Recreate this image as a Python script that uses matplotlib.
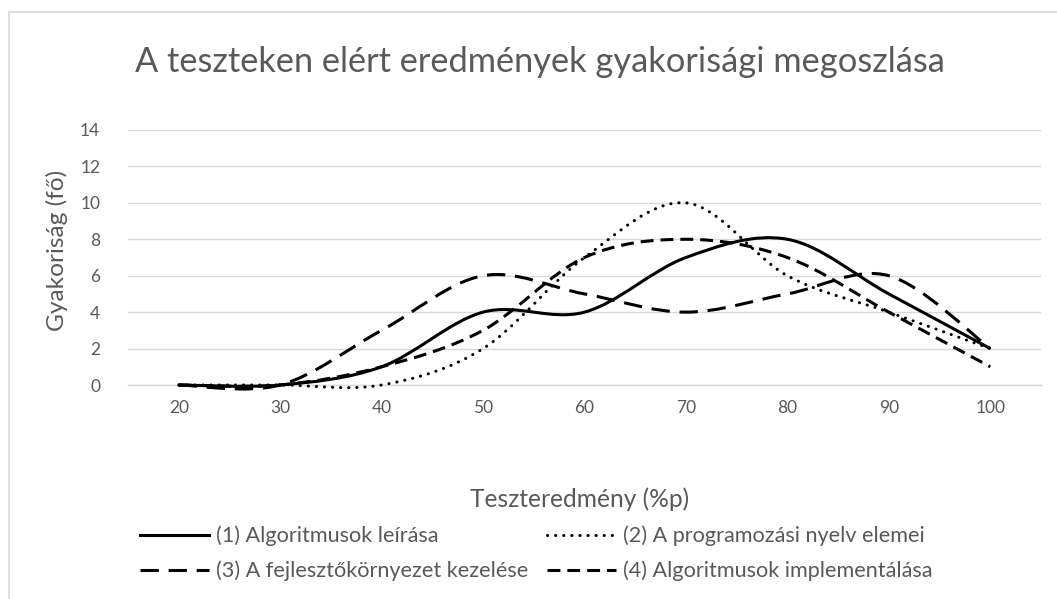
import matplotlib
matplotlib.use("Agg")
import matplotlib.pyplot as plt
from matplotlib.path import Path
from matplotlib.patches import PathPatch, Rectangle
from matplotlib.lines import Line2D

# ---------------- data ----------------
categories = [20, 30, 40, 50, 60, 70, 80, 90, 100]
s1 = [0, 0, 1, 4, 4, 7, 8, 5, 2]    # (1) Algoritmusok leírása
s2 = [0, 0, 0, 2, 7, 10, 6, 4, 2]   # (2) A programozási nyelv elemei
s3 = [0, 0, 3, 6, 5, 4, 5, 6, 2]    # (3) A fejlesztőkörnyezet kezelése
s4 = [0, 0, 1, 3, 7, 8, 7, 4, 1]    # (4) Algoritmusok implementálása
labels = ["(1) Algoritmusok leírása",
          "(2) A programozási nyelv elemei",
          "(3) A fejlesztőkörnyezet kezelése",
          "(4) Algoritmusok implementálása"]
title = "A teszteken elért eredmények gyakorisági megoszlása"
xlabel = "Teszteredmény (%p)"
ylabel = "Gyakoriság (fő)"
yticks = [0, 2, 4, 6, 8, 10, 12, 14]

# ---------------- style ----------------
plt.rcParams['font.family'] = ['Lato', 'DejaVu Sans']
TXT = '#595959'
GRID = '#d9d9d9'
W, H = 1057, 599
fig = plt.figure(figsize=(W / 100, H / 100), dpi=100)
renderer = fig.canvas.get_renderer()


def px2fx(x):
    return x / W


def px2fy(y):
    return 1 - y / H


def fit_width(txt, target, vertical=False):
    bb = txt.get_window_extent(renderer)
    cur = bb.height if vertical else bb.width
    txt.set_fontsize(txt.get_fontsize() * target / cur)


# chart border
fig.patches.append(Rectangle((px2fx(9), -0.05), 1.2, (H - 12) / H + 0.05,
                             transform=fig.transFigure, fill=False,
                             edgecolor=GRID, lw=1.2))

L, R, T, B = 128, 1041, 130, 385
ax = fig.add_axes([L / W, (H - B) / H, (R - L) / W, (B - T) / H])
ax.set_xlim(-0.5, len(categories) - 0.5)
ax.set_ylim(0, 14)
for sp in ['top', 'right', 'left']:
    ax.spines[sp].set_visible(False)
ax.spines['bottom'].set_color(GRID)
ax.spines['bottom'].set_linewidth(1.0)
ax.set_yticks(yticks)
ax.set_xticks(range(len(categories)))
ax.set_xticklabels([str(c) for c in categories])
ax.tick_params(axis='both', length=0, colors=TXT, labelsize=12.5)
ax.tick_params(axis='y', pad=20)
ax.tick_params(axis='x', pad=11)
ax.yaxis.grid(True, color=GRID, lw=1.0)
ax.set_axisbelow(True)

lw = 2.2
styles = [
    dict(linestyle='-', cap='butt'),
    dict(linestyle=(0, (0.05, 2.6)), cap='round'),
    dict(linestyle=(0, (6.0, 3.2)), cap='butt'),
    dict(linestyle=(0, (4.2, 2.3)), cap='butt'),
]


def smooth_path(ys):
    """Excel-like smoothed line: cubic Bezier through the data points."""
    n = len(ys)
    pts = [(float(i), float(y)) for i, y in enumerate(ys)]
    verts = [pts[0]]
    codes = [Path.MOVETO]
    for i in range(n - 1):
        p0 = pts[i - 1] if i > 0 else pts[i]
        p1 = pts[i]
        p2 = pts[i + 1]
        p3 = pts[i + 2] if i + 2 < n else pts[i + 1]
        c1 = (p1[0] + (p2[0] - p0[0]) / 6, p1[1] + (p2[1] - p0[1]) / 6)
        c2 = (p2[0] - (p3[0] - p1[0]) / 6, p2[1] - (p3[1] - p1[1]) / 6)
        verts += [c1, c2, p2]
        codes += [Path.CURVE4] * 3
    return Path(verts, codes)


handles = []
for ys, st, lab in zip([s1, s2, s3, s4], styles, labels):
    patch = PathPatch(smooth_path(ys), fill=False, edgecolor='black',
                      lw=lw, linestyle=st['linestyle'],
                      capstyle=st['cap'], joinstyle='round',
                      clip_on=False, zorder=3)
    ax.add_patch(patch)
    handles.append(Line2D([], [], color='black', lw=lw, label=lab,
                          linestyle=st['linestyle'],
                          dash_capstyle=st['cap']))

t_title = fig.text(px2fx(540), px2fy(62), title, ha='center', va='center',
                   fontsize=22, color=TXT)
fit_width(t_title, 809)
t_y = fig.text(px2fx(57), px2fy(250), ylabel, ha='center', va='center',
               rotation=90, fontsize=14, color=TXT)
fit_width(t_y, 162, vertical=True)
t_x = fig.text(px2fx(580), px2fy(499), xlabel, ha='center', va='center',
               fontsize=14, color=TXT)
fit_width(t_x, 219)

# legend font size: longest first-column label ~312 px wide
probe = fig.text(0, 0, labels[2], fontsize=14)
fit_width(probe, 312)
fs = probe.get_fontsize()
fs_px = fs * 100 / 72
h_px = probe.get_window_extent(renderer).height
probe.remove()

hl_px, pad_px, gap_px = 69, 7, 19
order = [0, 2, 1, 3]   # row 1: (1),(2); row 2: (3),(4)
leg = fig.legend(handles=[handles[i] for i in order], ncol=2,
                 loc='center left',
                 bbox_to_anchor=(px2fx(140), px2fy(553.5)),
                 frameon=False, fontsize=fs,
                 handlelength=hl_px / fs_px,
                 handletextpad=pad_px / fs_px,
                 columnspacing=gap_px / fs_px,
                 labelspacing=max(0.05, (35 - h_px) / fs_px),
                 borderpad=0, borderaxespad=0)
for t in leg.get_texts():
    t.set_color(TXT)

fig.savefig('out.png', dpi=100)
